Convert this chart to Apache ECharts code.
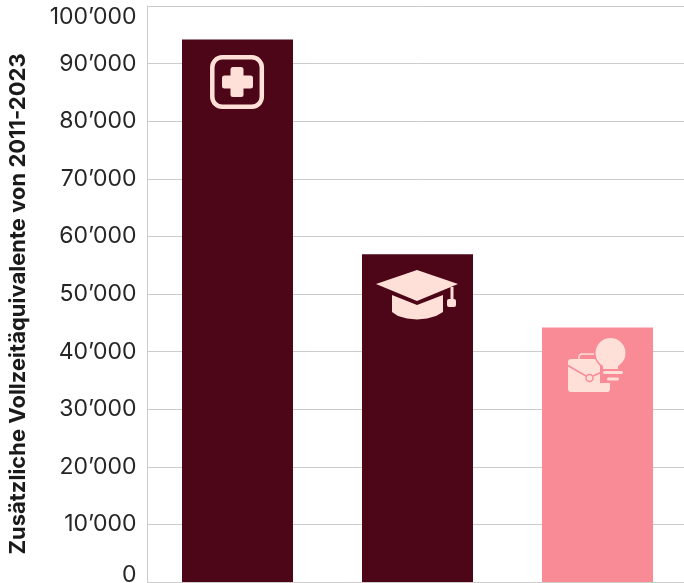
<!DOCTYPE html>
<html>
<head>
<meta charset="utf-8">
<style>
  html, body { margin: 0; padding: 0; background: #fff; }
  #chart { width: 684px; height: 583px; }
</style>
<script src="https://cdn.jsdelivr.net/npm/echarts@6/dist/echarts.min.js"></script>
</head>
<body>
<div id="chart"></div>
<script>
const categories = ['Gesundheit', 'Bildung', 'Beratung'];
const values = [94200, 56900, 44200];
const barColors = ['#4d0617', '#4d0617', '#f98b97'];
const tickStep = 10000;
const axisMax = 100000;
const yTitle = 'Zusätzliche Vollzeitäquivalente von 2011-2023';

const iconColor = '#ffe0d8';
const fontName = 'Inter, sans-serif';

// icons sit on the bars, they are decoration and not data
const healthIcon = [
    { type: 'rect', z: 10, shape: { x: 212.3, y: 57.3, width: 49.5, height: 49.5, r: 10 }, style: { fill: 'none', stroke: iconColor, lineWidth: 4.5 } },
    { type: 'rect', z: 10, shape: { x: 230.5, y: 67, width: 13, height: 30, r: 2.5 }, style: { fill: iconColor } },
    { type: 'rect', z: 10, shape: { x: 222, y: 75.5, width: 31, height: 13, r: 2.5 }, style: { fill: iconColor } }
];

const capIcon = [
    { type: 'polygon', z: 10, shape: { points: [[417, 270], [458, 284], [417, 301], [376, 284]] }, style: { fill: iconColor } },
    { type: 'polygon', z: 10, shape: { points: [[392, 295], [417, 305], [443, 295], [443, 312], [436, 316], [427, 318.5], [417, 319.5], [407, 318.5], [398, 316], [392, 312]] }, style: { fill: iconColor } },
    { type: 'rect', z: 10, shape: { x: 450.5, y: 287, width: 3, height: 13 }, style: { fill: iconColor } },
    { type: 'rect', z: 10, shape: { x: 447, y: 299, width: 9, height: 8, r: 2 }, style: { fill: iconColor } }
];

const adviceIcon = [
    { type: 'polyline', z: 10, shape: { points: [[579, 359], [579, 356], [581, 354], [594, 354]] }, style: { fill: 'none', stroke: iconColor, lineWidth: 1.5 } },
    { type: 'rect', z: 10, shape: { x: 568, y: 359, width: 42, height: 33, r: 3 }, style: { fill: iconColor } },
    { type: 'polyline', z: 10, shape: { points: [[567, 365], [586, 376]] }, style: { stroke: '#f98b97', lineWidth: 1.5, fill: 'none' } },
    { type: 'polyline', z: 10, shape: { points: [[593, 376], [602, 372]] }, style: { stroke: '#f98b97', lineWidth: 1.5, fill: 'none' } },
    { type: 'circle', z: 10, shape: { cx: 589.5, cy: 378, r: 3.5 }, style: { fill: iconColor, stroke: '#f98b97', lineWidth: 1.5 } },
    { type: 'circle', z: 11, shape: { cx: 610.5, cy: 353, r: 16.5 }, style: { fill: '#f98b97' } },
    { type: 'rect', z: 11, shape: { x: 600, y: 362, width: 22, height: 21 }, style: { fill: '#f98b97' } },
    { type: 'circle', z: 12, shape: { cx: 610.5, cy: 353, r: 15 }, style: { fill: iconColor } },
    { type: 'rect', z: 12, shape: { x: 603, y: 360, width: 15, height: 9 }, style: { fill: iconColor } },
    { type: 'rect', z: 12, shape: { x: 603, y: 371, width: 20, height: 3, r: 1.5 }, style: { fill: iconColor } },
    { type: 'rect', z: 12, shape: { x: 607, y: 377.5, width: 12, height: 3, r: 1.5 }, style: { fill: iconColor } }
];

const chart = echarts.init(document.getElementById('chart'), null, { renderer: 'canvas' });

chart.setOption({
    animation: false,
    backgroundColor: '#fff',
    textStyle: { fontFamily: fontName },
    grid: { left: 147.5, right: -3.5, top: 6, bottom: 1, containLabel: false, outerBoundsMode: 'none' },
    xAxis: {
        type: 'category',
        data: categories,
        axisLine: { show: true, lineStyle: { color: '#cccccc', width: 1 } },
        axisTick: { show: false },
        axisLabel: { show: false }
    },
    yAxis: {
        type: 'value',
        min: 0,
        max: axisMax,
        interval: tickStep,
        name: yTitle,
        nameLocation: 'middle',
        nameRotate: 90,
        nameGap: 118,
        nameTextStyle: { fontFamily: fontName, fontSize: 22, fontWeight: 700, color: '#1a1a1a', padding: [0, 0, 0, -20] },
        axisLine: { show: true, lineStyle: { color: '#cccccc', width: 1 } },
        axisTick: { show: false },
        splitLine: { lineStyle: { color: '#cccccc', width: 1 } },
        axisLabel: {
            margin: 11,
            fontFamily: fontName,
            fontSize: 23,
            color: '#262626',
            verticalAlignMinLabel: 'bottom',
            verticalAlignMaxLabel: 'top',
            rich: {
                t: { fontFamily: fontName, fontSize: 23, color: '#262626' },
                z: { fontFamily: fontName, fontSize: 23, color: '#262626', lineHeight: 14 }
            },
            formatter: function (v) {
                if (v === 0) return '{z|0}';
                return '{t|' + String(v).replace(/\B(?=(\d{3})+$)/g, '’') + '}';
            }
        }
    },
    series: [{
        type: 'bar',
        barWidth: 111,
        data: values.map((v, i) => ({ value: v, itemStyle: { color: barColors[i] } }))
    }],
    graphic: { elements: healthIcon.concat(capIcon, adviceIcon) }
});
</script>
</body>
</html>
